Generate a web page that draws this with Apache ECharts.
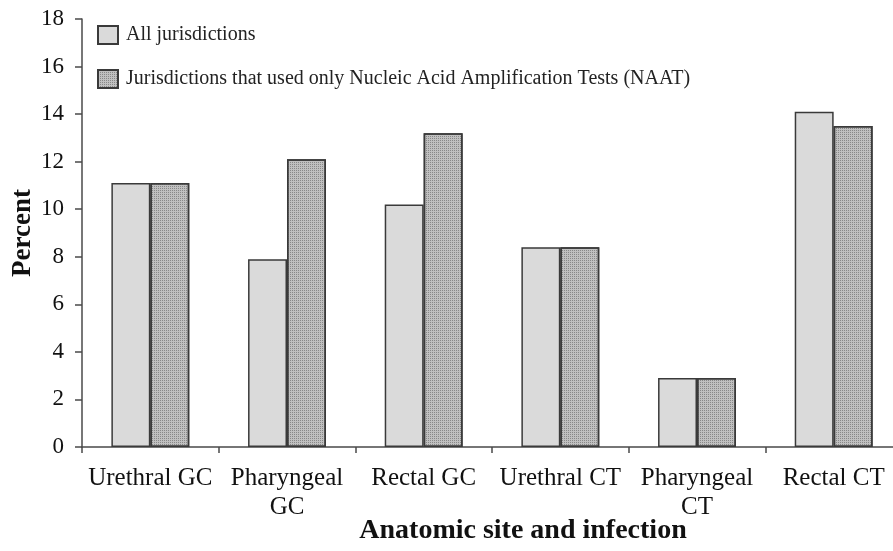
<!DOCTYPE html>
<html>
<head>
<meta charset="utf-8">
<script src="https://cdn.jsdelivr.net/npm/echarts@6/dist/echarts.min.js"></script>
<style>
  html, body { margin: 0; padding: 0; background: #fff; }
  #chart { width: 893px; height: 551px; }
</style>
</head>
<body>
<div id="chart"></div>
<script>
// categories and values
const categories = ['Urethral GC', 'Pharyngeal\nGC', 'Rectal GC', 'Urethral CT', 'Pharyngeal\nCT', 'Rectal CT'];
const allJurisdictions = [11.1, 7.9, 10.2, 8.4, 2.9, 14.1];
const naatOnly = [11.1, 12.1, 13.2, 8.4, 2.9, 13.5];
const seriesNames = ['All jurisdictions', 'Jurisdictions that used only Nucleic Acid Amplification Tests (NAAT)'];

const serif = 'Liberation Serif, Times New Roman, serif';
const axisColor = '#4a4a4a';

const chart = echarts.init(document.getElementById('chart'), null, { renderer: 'canvas' });

chart.setOption({
  animation: false,
  backgroundColor: '#fff',
  textStyle: { fontFamily: serif },
  // the last category runs off the right edge in the original, so let the grid overflow
  grid: { left: 82, top: 19, width: 820, height: 428, outerBoundsMode: 'none', containLabel: false },
  legend: {
    orient: 'vertical',
    left: 97,
    top: 25,
    padding: 0,
    icon: 'rect',
    itemWidth: 20,
    itemHeight: 18,
    itemGap: 24,
    textStyle: { fontFamily: serif, fontSize: 20, color: '#222', lineHeight: 18, padding: [0, 0, 0, 3] },
    data: seriesNames
  },
  xAxis: {
    type: 'category',
    data: categories,
    name: 'Anatomic site and infection',
    nameLocation: 'middle',
    nameGap: 70,
    nameMoveOverlap: false,
    nameTextStyle: { fontFamily: serif, fontSize: 28, fontWeight: 'bold', color: '#111', padding: [0, 0, 0, 62] },
    axisLine: { lineStyle: { color: axisColor, width: 1.5 } },
    axisTick: { show: true, length: 6, lineStyle: { color: axisColor, width: 1.5 } },
    axisLabel: { fontFamily: serif, fontSize: 25, color: '#111', margin: 17, lineHeight: 29, interval: 0 }
  },
  yAxis: {
    type: 'value',
    min: 0,
    max: 18,
    interval: 2,
    name: 'Percent',
    nameLocation: 'middle',
    nameRotate: 90,
    nameGap: 45,
    nameMoveOverlap: false,
    nameTextStyle: { fontFamily: serif, fontSize: 27, fontWeight: 'bold', color: '#111' },
    splitLine: { show: false },
    axisLine: { show: true, lineStyle: { color: axisColor, width: 1.5 } },
    axisTick: { show: true, length: 7, lineStyle: { color: axisColor, width: 1.5 } },
    axisLabel: { fontFamily: serif, fontSize: 23, color: '#111', margin: 18 }
  },
  series: [
    {
      name: seriesNames[0],
      type: 'bar',
      data: allJurisdictions,
      barGap: '0%',
      barCategoryGap: '43%',
      itemStyle: { color: '#dadada', borderColor: '#3a3a3a', borderWidth: 1.5 }
    },
    {
      name: seriesNames[1],
      type: 'bar',
      data: naatOnly,
      barGap: '0%',
      barCategoryGap: '43%',
      itemStyle: {
        color: '#c0c0c0',
        borderColor: '#3a3a3a',
        borderWidth: 1.5,
        decal: {
          symbol: 'rect',
          symbolSize: 1,
          dashArrayX: [1, 1],
          dashArrayY: [1, 1],
          rotation: 0,
          color: 'rgba(90,90,90,0.55)'
        }
      }
    }
  ]
});
</script>
</body>
</html>
